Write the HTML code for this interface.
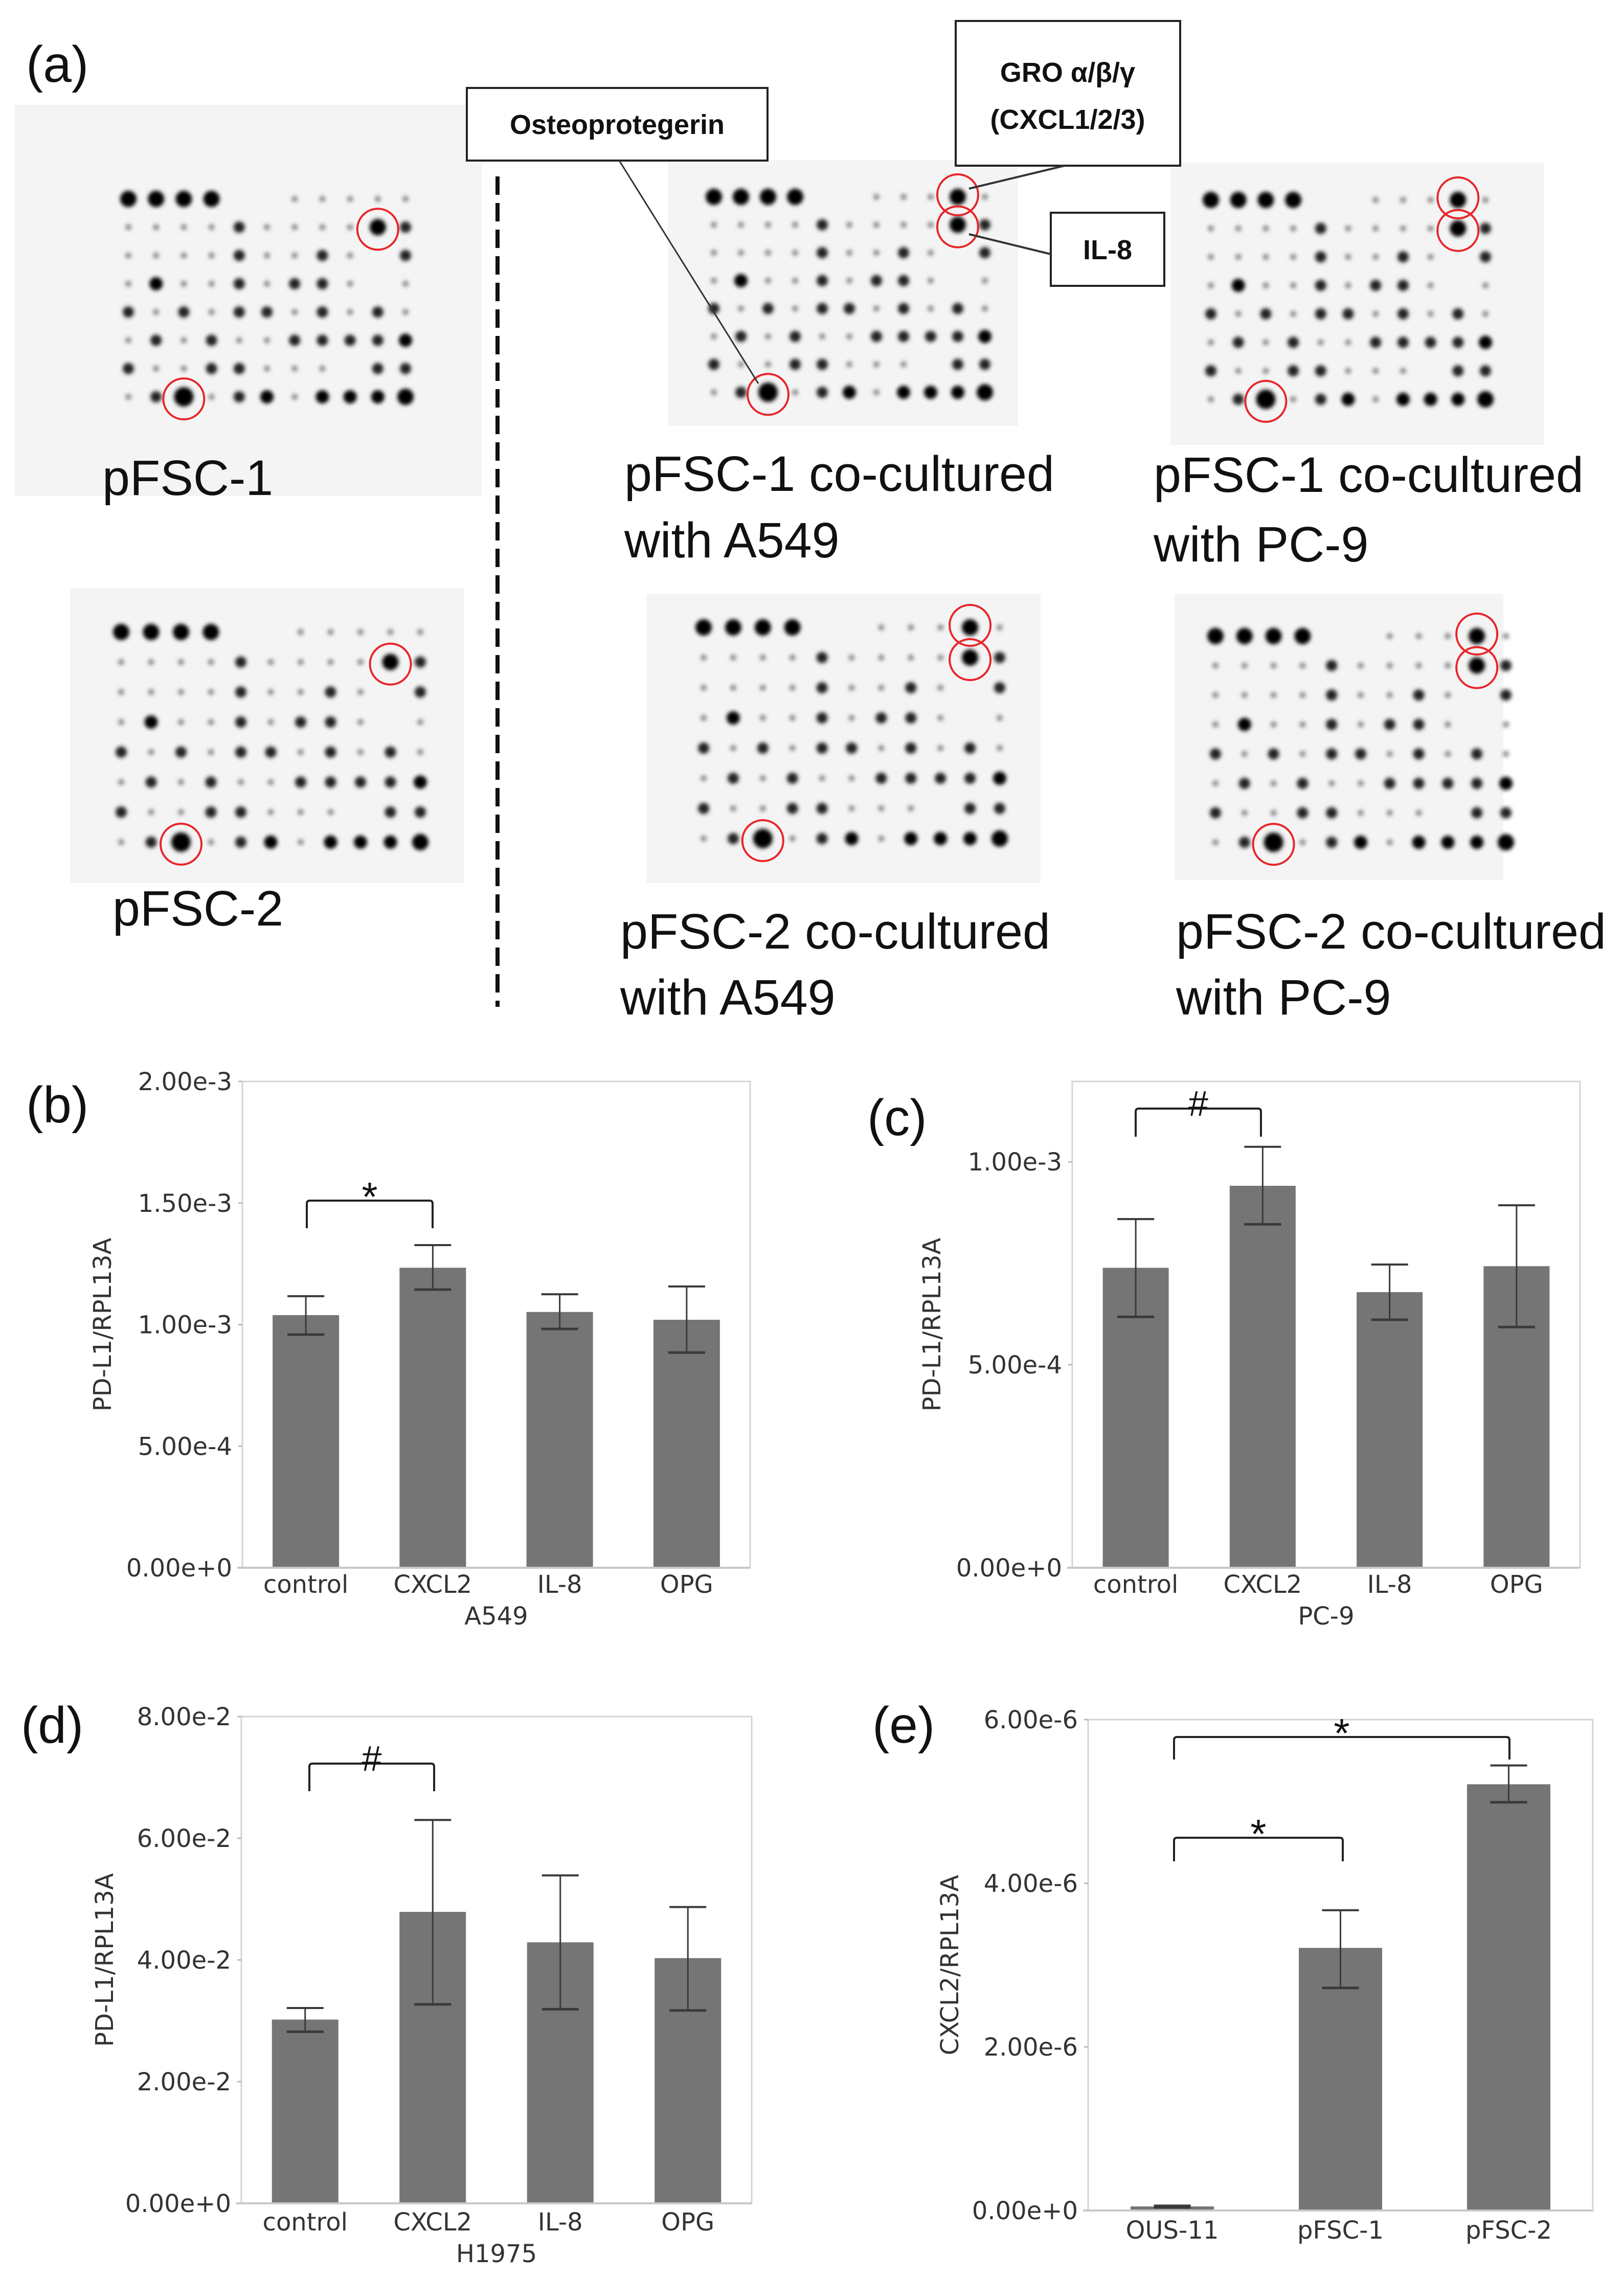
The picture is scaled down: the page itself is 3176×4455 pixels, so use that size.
<!DOCTYPE html>
<html><head><meta charset="utf-8">
<style>
html,body{margin:0;padding:0;background:#fff;}
svg{display:block;}
.lbl{font-family:"Liberation Sans",sans-serif;font-size:97px;fill:#111;}
.pan{font-family:"Liberation Sans",sans-serif;font-size:100px;fill:#111;}
.call{font-family:"Liberation Sans",sans-serif;font-size:54px;font-weight:bold;fill:#111;}
.tk{font-family:"DejaVu Sans",sans-serif;font-size:48px;fill:#333;}
.cat{font-family:"DejaVu Sans",sans-serif;font-size:48px;fill:#333;}
</style></head>
<body>
<svg id="fig" width="3176" height="4455" viewBox="0 0 3176 4455" xmlns="http://www.w3.org/2000/svg">
<defs><filter id="blur" x="-50%" y="-50%" width="200%" height="200%"><feGaussianBlur stdDeviation="4"/></filter></defs>
<text class="pan" x="51" y="160">(a)</text>
<g id="blots"></g>
<line x1="973" y1="345" x2="973" y2="1969" stroke="#111" stroke-width="8" stroke-dasharray="36,16"/>
<text class="lbl" x="200" y="968">pFSC-1</text>
<text class="lbl" x="1221" y="960">pFSC-1 co-cultured</text>
<text class="lbl" x="1221" y="1090">with A549</text>
<text class="lbl" x="2256" y="962">pFSC-1 co-cultured</text>
<text class="lbl" x="2256" y="1098">with PC-9</text>
<text class="lbl" x="220" y="1810">pFSC-2</text>
<text class="lbl" x="1213" y="1855">pFSC-2 co-cultured</text>
<text class="lbl" x="1213" y="1984">with A549</text>
<text class="lbl" x="2300" y="1855">pFSC-2 co-cultured</text>
<text class="lbl" x="2300" y="1984">with PC-9</text>
<g>
<rect x="913" y="172" width="588" height="142" fill="#fff" stroke="#222" stroke-width="4"/>
<text class="call" x="1207" y="262" text-anchor="middle">Osteoprotegerin</text>
<line x1="1211" y1="314" x2="1483" y2="750" stroke="#333" stroke-width="3"/>
</g>
<g>
<rect x="1869" y="41" width="439" height="283" fill="#fff" stroke="#222" stroke-width="4"/>
<text class="call" x="2088" y="160" text-anchor="middle">GRO α/β/γ</text>
<text class="call" x="2088" y="252" text-anchor="middle">(CXCL1/2/3)</text>
<line x1="2082" y1="324" x2="1895" y2="369" stroke="#333" stroke-width="4"/>
</g>
<g>
<rect x="2055" y="416" width="222" height="143" fill="#fff" stroke="#222" stroke-width="4"/>
<text class="call" x="2166" y="507" text-anchor="middle">IL-8</text>
<line x1="2055" y1="497" x2="1895" y2="458" stroke="#333" stroke-width="4"/>
</g>
<g id="charts"></g>
</svg>
<script>
const NS="http://www.w3.org/2000/svg";
function mk(tag,attrs,parent){const e=document.createElementNS(NS,tag);for(const k in attrs)e.setAttribute(k,attrs[k]);parent.appendChild(e);return e;}
// ---- dot blots ----
const blotPattern=[
[3,3,3,3,0,0,1,1,1,1,1],
[1,1,1,1,2,1,1,1,1,3,2],
[1,1,1,1,2,1,1,2,1,0,2],
[1,2.5,1,1,2,1,2,2,1,0,1],
[2,1,2,1,2,2,1,2,1,2,1],
[1,2,1,2,1,1,2,2,2,2,2.5],
[2,1,1,2,2,1,1,1,0,2,2],
[1,2,4,1,2,2.5,1,2.5,2.5,2.5,3]];
const blots=[
{name:"pfsc1",bg:[29,205,913,765],x0:251,y0:389,dx:54.2,dy:55.3,circ:[[9,1],[2,7]],gro:false},
{name:"pfsc1-a549",bg:[1306,313,685,520],x0:1396,y0:385,dx:53,dy:54.6,circ:[[9,0],[9,1],[2,7]],gro:true},
{name:"pfsc1-pc9",bg:[2289,318,731,552],x0:2368,y0:391,dx:53.7,dy:55.7,circ:[[9,0],[9,1],[2,7]],gro:true},
{name:"pfsc2",bg:[137,1150,771,577],x0:237,y0:1236,dx:58.5,dy:58.7,circ:[[9,1],[2,7]],gro:false},
{name:"pfsc2-a549",bg:[1264,1162,771,565],x0:1376,y0:1227,dx:57.9,dy:59,circ:[[9,0],[9,1],[2,7]],gro:true},
{name:"pfsc2-pc9",bg:[2297,1162,643,559],x0:2377,y0:1244,dx:56.8,dy:57.6,circ:[[9,0],[9,1],[2,7]],gro:true}];
const bg=document.getElementById("blots");
blots.forEach(b=>{
  const g=mk("g",{},bg);
  
  
  mk("rect",{x:b.bg[0],y:b.bg[1],width:b.bg[2],height:b.bg[3],fill:"#f4f4f4"},g);
  const dg=mk("g",{filter:"url(#blur)"},g);
  blotPattern.forEach((row,r)=>row.forEach((lv,c)=>{
    let v=lv; if(b.gro&&r===0&&c===9)v=3; if(b.gro&&r===1&&c===9)v=3.5;
    if(v<=0)return;
    const rr=v<1.5?6:(v<2.2?11:(v<3?13:(v<3.6?16:19)));
    const col=v<1.5?"#8a8a8a":(v<2.2?"#222":"#000");
    const d=mk("circle",{cx:b.x0+c*b.dx,cy:b.y0+r*b.dy,r:rr,fill:col},dg);
    
    
  }));
  b.circ.forEach(([c,r])=>{
    const o=mk("circle",{cx:b.x0+c*b.dx,cy:b.y0+r*b.dy+(r===0?-4:4),r:40,fill:"none",stroke:"#e8262a","stroke-width":4},g);
    
    
  });
});
// ---- chart data ----
const catsB=["control","CXCL2","IL-8","OPG"];
const valsB=[1.039e-3,1.234e-3,1.052e-3,1.020e-3];
const hiB=[1.117e-3,1.327e-3,1.125e-3,1.157e-3];
const loB=[0.959e-3,1.144e-3,0.982e-3,0.885e-3];
const ticksB=[0,5e-4,1e-3,1.5e-3,2e-3];
const tickLabB=["0.00e+0","5.00e-4","1.00e-3","1.50e-3","2.00e-3"];
const catsC=["control","CXCL2","IL-8","OPG"];
const valsC=[0.739e-3,0.941e-3,0.679e-3,0.743e-3];
const hiC=[0.859e-3,1.037e-3,0.747e-3,0.893e-3];
const loC=[0.618e-3,0.846e-3,0.611e-3,0.593e-3];
const ticksC=[0,5e-4,1e-3];
const tickLabC=["0.00e+0","5.00e-4","1.00e-3"];
const catsD=["control","CXCL2","IL-8","OPG"];
const valsD=[0.0302,0.0479,0.0429,0.0403];
const hiD=[0.0321,0.0630,0.0539,0.0487];
const loD=[0.0282,0.0327,0.0319,0.0317];
const ticksD=[0,0.02,0.04,0.06,0.08];
const tickLabD=["0.00e+0","2.00e-2","4.00e-2","6.00e-2","8.00e-2"];
const catsE=["OUS-11","pFSC-1","pFSC-2"];
const valsE=[0.05e-6,3.21e-6,5.21e-6];
const hiE=[0.06e-6,3.67e-6,5.44e-6];
const loE=[0.04e-6,2.72e-6,4.99e-6];
const ticksE=[0,2e-6,4e-6,6e-6];
const tickLabE=["0.00e+0","2.00e-6","4.00e-6","6.00e-6"];

const charts=document.getElementById("charts");
function chart(o){
  const g=mk("g",{},charts);
  
  
  const y=v=>o.B-(v/o.max)*(o.B-o.T);
  const band=(o.R-o.L)/o.cats.length;
  const x=i=>o.L+band*(i+0.5);
  const p=mk("text",{class:"pan",x:o.px,y:o.py},g);p.textContent="("+o.id+")";
  
  
  const fr=mk("rect",{x:o.L,y:o.T,width:o.R-o.L,height:o.B-o.T,fill:"none",stroke:"#d4d4d4","stroke-width":3},g);
  
  
  o.ticks.forEach((t,i)=>{
    mk("line",{x1:o.L-8,x2:o.L,y1:y(t),y2:y(t),stroke:"#bbb","stroke-width":3},g);
    const tl=mk("text",{class:"tk",x:o.L-20,y:y(t)+17,"text-anchor":"end"},g);
    tl.textContent=o.tl[i];
    
    
  });
  o.vals.forEach((v,i)=>{
    const r=mk("rect",{x:x(i)-o.bw/2,y:y(v),width:o.bw,height:o.B-y(v),fill:"#757575"},g);
    
    
    const e=mk("g",{stroke:"#3a3a3a"},g);
    
    
    mk("line",{x1:x(i),x2:x(i),y1:y(o.hi[i]),y2:y(o.lo[i]),"stroke-width":3},e);
    mk("line",{x1:x(i)-36,x2:x(i)+36,y1:y(o.hi[i]),y2:y(o.hi[i]),"stroke-width":4},e);
    mk("line",{x1:x(i)-36,x2:x(i)+36,y1:y(o.lo[i]),y2:y(o.lo[i]),"stroke-width":5},e);
    const c=mk("text",{class:"cat",x:x(i),y:o.cy,"text-anchor":"middle"},g);
    c.textContent=o.cats[i];
    
    
  });
  mk("line",{x1:o.L-10,x2:o.R,y1:o.B,y2:o.B,stroke:"#c8c8c8","stroke-width":4},g);
  if(o.xt){const t=mk("text",{class:"cat",x:(o.L+o.R)/2,y:o.cy+62,"text-anchor":"middle"},g);t.textContent=o.xt;
    
    }
  const yt=mk("text",{class:"cat",x:0,y:0,"text-anchor":"middle",transform:"translate("+(o.yx+17)+","+((o.T+o.B)/2)+") rotate(-90)"},g);
  yt.textContent=o.yt;
  
  
  (o.br||[]).forEach(b=>{
    const bg2=mk("g",{},g);
    
    
    mk("path",{d:`M${b[0]},${b[3]} L${b[0]},${b[2]+6} Q${b[0]},${b[2]} ${b[0]+6},${b[2]} L${b[1]-6},${b[2]} Q${b[1]},${b[2]} ${b[1]},${b[2]+6} L${b[1]},${b[3]}`,fill:"none",stroke:"#222","stroke-width":4},bg2);
    const s=mk("text",{x:(b[0]+b[1])/2,y:b[2]-(b[4]==="#"?-14:-20),"text-anchor":"middle","font-family":"Liberation Sans,sans-serif","font-size":b[4]==="#"?70:80,fill:"#111"},bg2);
    s.textContent=b[4];
  });
}
chart({id:"b",L:474,R:1467,T:2115,B:3066,max:2e-3,cats:catsB,vals:valsB,hi:hiB,lo:loB,ticks:ticksB,tl:tickLabB,bw:130,cy:3115,xt:"A549",yx:200,yt:"PD-L1/RPL13A",px:51,py:2195,br:[[600,846,2348,2402,"*"]]});
chart({id:"c",L:2097,R:3090,T:2115,B:3066,max:1.198e-3,cats:catsC,vals:valsC,hi:hiC,lo:loC,ticks:ticksC,tl:tickLabC,bw:129,cy:3115,xt:"PC-9",yx:1822,yt:"PD-L1/RPL13A",px:1696,py:2220,br:[[2221,2466,2168,2223,"#"]]});
chart({id:"d",L:472,R:1470,T:3357,B:4309,max:0.08,cats:catsD,vals:valsD,hi:hiD,lo:loD,ticks:ticksD,tl:tickLabD,bw:130,cy:4362,xt:"H1975",yx:204,yt:"PD-L1/RPL13A",px:41,py:3408,br:[[605,849,3449,3503,"#"]]});
chart({id:"e",L:2128,R:3115,T:3363,B:4323,max:6e-6,cats:catsE,vals:valsE,hi:hiE,lo:loE,ticks:ticksE,tl:tickLabE,bw:163,cy:4378,xt:"",yx:1857,yt:"CXCL2/RPL13A",px:1706,py:3408,br:[[2296,2952,3397,3441,"*"],[2296,2626,3594,3640,"*"]]});
</script>
</body></html>
